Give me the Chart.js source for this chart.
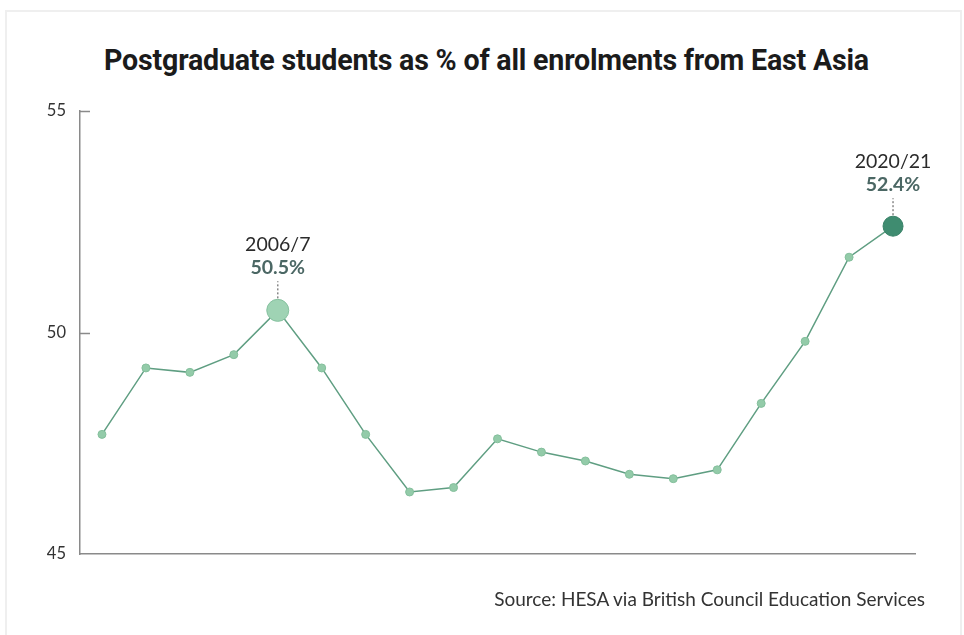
<!DOCTYPE html>
<html>
<head>
<meta charset="utf-8">
<script src="https://cdn.jsdelivr.net/npm/chart.js@4"></script>
<style>
  html, body { margin: 0; padding: 0; background: #fff; }
  #wrap { position: relative; width: 964px; height: 635px; overflow: hidden; }
  #frame { position: absolute; left: 5px; top: 10px; width: 953px; height: 640px; border: 2px solid #efefef; }
  #title { position: absolute; left: 0; top: 43px; width: 973px; text-align: center;
           font: bold 28.6px Roboto, sans-serif; color: #1b1b1b; letter-spacing: -0.2px; }
  #source { position: absolute; right: 39px; top: 587px; font: 19px Lato, sans-serif; color: #333; }
  canvas { position: absolute; left: 0; top: 0; }
</style>
</head>
<body>
<div id="wrap">
  <div id="frame"></div>
  <div id="title">Postgraduate students as % of all enrolments from East Asia</div>
  <canvas id="chart" width="964" height="635"></canvas>
  <div id="source">Source: HESA via British Council Education Services</div>
</div>
<script>
// Postgraduate share of East Asian enrolments

const years = ['2002/3', '2003/4', '2004/5', '2005/6', '2006/7', '2007/8', '2008/9', '2009/10',
    '2010/11', '2011/12', '2012/13', '2013/14', '2014/15', '2015/16', '2016/17', '2017/18',
    '2018/19', '2019/20', '2020/21'];
const shares = [47.7, 49.2, 49.1, 49.5, 50.5, 49.2, 47.7, 46.4, 46.5, 47.6, 47.3, 47.1, 46.8,
    46.7, 46.9, 48.4, 49.8, 51.7, 52.4];
const yTicks = [45, 50, 55];
const callouts = [4, 18];

const lineColor = '#5f9e82';
const dotColor = '#93cba9';

const pointRadii = shares.map((v, i) => i === 4 ? 11 : (i === 18 ? 10 : 4));
const pointFills = shares.map((v, i) => i === 4 ? '#9fd3b4' : (i === 18 ? '#3f8c70' : dotColor));
const pointEdges = shares.map((v, i) => i === 4 ? '#86c19f' : (i === 18 ? '#3a8268' : '#84bf9c'));

const innerTicks = {
    id: 'innerTicks',
    afterDraw(chart) {
        const ctx = chart.ctx;
        const y = chart.scales.y;
        const left = chart.chartArea.left;
        ctx.save();
        ctx.strokeStyle = '#8a8a8a';
        ctx.lineWidth = 1.5;
        yTicks.forEach(t => {
            if (t === 45) return;
            const py = Math.round(y.getPixelForValue(t)) + 0.5;
            ctx.beginPath();
            ctx.moveTo(left, py);
            ctx.lineTo(left + 10, py);
            ctx.stroke();
        });
        ctx.restore();
    }
};

const calloutLabels = {
    id: 'calloutLabels',
    afterDatasetsDraw(chart) {
        const ctx = chart.ctx;
        const meta = chart.getDatasetMeta(0);
        ctx.save();
        ctx.textAlign = 'center';
        callouts.forEach(i => {
            const pt = meta.data[i];
            const r = pointRadii[i];
            // dotted leader
            ctx.strokeStyle = '#888';
            ctx.lineWidth = 1.5;
            ctx.setLineDash([2, 2]);
            ctx.beginPath();
            ctx.moveTo(pt.x, pt.y - r - 1);
            ctx.lineTo(pt.x, pt.y - r - 18);
            ctx.stroke();
            ctx.setLineDash([]);
            ctx.fillStyle = '#4b6764';
            ctx.font = 'bold 19.5px Lato, sans-serif';
            ctx.fillText(shares[i].toFixed(1) + '%', pt.x, pt.y - r - 25);
            ctx.fillStyle = '#2b2b2b';
            ctx.font = '19.5px Lato, sans-serif';
            ctx.fillText(years[i], pt.x, pt.y - r - 48);
        });
        ctx.restore();
    }
};

new Chart(document.getElementById('chart'), {
    type: 'line',
    data: {
        labels: years,
        datasets: [{
            data: shares,
            borderColor: lineColor,
            borderWidth: 1.5,
            tension: 0,
            pointRadius: pointRadii,
            pointHoverRadius: pointRadii,
            pointBackgroundColor: pointFills,
            pointBorderColor: pointEdges,
            pointBorderWidth: 1
        }]
    },
    options: {
        responsive: false,
        animation: false,
        layout: { padding: { top: 111, right: 49, bottom: 81, left: 0 } },
        plugins: { legend: { display: false }, tooltip: { enabled: false } },
        scales: {
            x: {
                offset: true,
                grid: { display: false, drawTicks: false },
                border: { color: '#8a8a8a', width: 1.5 },
                ticks: { display: false },
                afterFit(scale) { scale.height = 0; }
            },
            y: {
                min: 45,
                max: 55,
                afterBuildTicks(scale) { scale.ticks = yTicks.map(v => ({ value: v })); },
                grid: { display: false, drawTicks: false },
                border: { color: '#8a8a8a', width: 1.5 },
                ticks: { padding: 14, color: '#333', font: { family: 'Lato', size: 16.5 } },
                afterFit(scale) { scale.width = 80; }
            }
        }
    },
    plugins: [innerTicks, calloutLabels]
});
</script>
</body>
</html>
